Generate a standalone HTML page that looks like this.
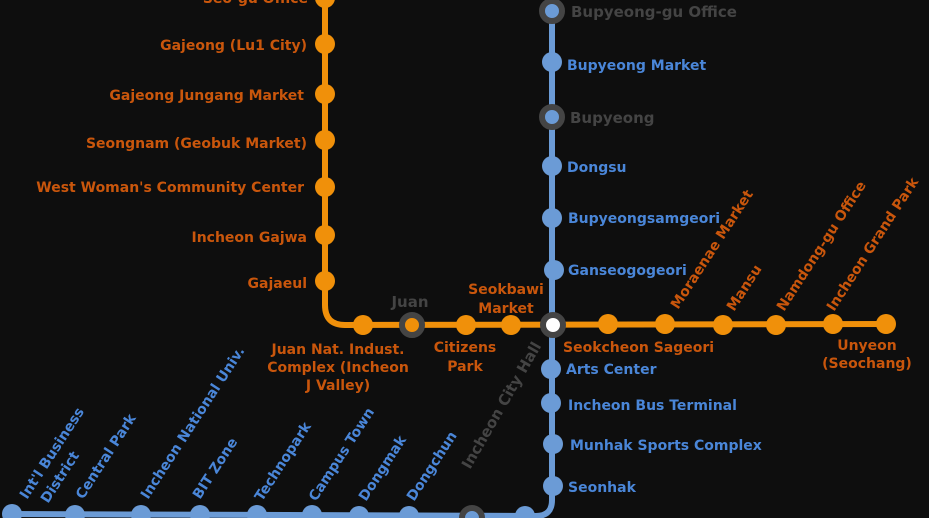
<!DOCTYPE html>
<html><head><meta charset="utf-8"><style>
html,body{margin:0;padding:0;background:#0e0e0e;}
svg{display:block;font-family:"DejaVu Sans","Liberation Sans",sans-serif;font-weight:bold;font-size:14px;}
.o{fill:#c9560c;}
.b{fill:#4a86d8;}
.g{fill:#444;}
</style></head><body>
<svg width="929" height="518" viewBox="0 0 929 518" xmlns="http://www.w3.org/2000/svg">
<rect width="929" height="518" fill="#0e0e0e"/>
<path d="M552,0 L552,500 Q552,516 536,516 L10,514" fill="none" stroke="#6b9bd6" stroke-width="6"/>
<path d="M325,0 L325,305 Q325,325 345,325 L886,324" fill="none" stroke="#f0900a" stroke-width="6"/>
<g fill="#f0900a">
<circle cx="325" cy="-2" r="10"/><circle cx="325" cy="44" r="10"/><circle cx="325" cy="94" r="10"/><circle cx="325" cy="140" r="10"/><circle cx="325" cy="187" r="10"/><circle cx="325" cy="235" r="10"/><circle cx="325" cy="281" r="10"/>
<circle cx="363" cy="325" r="10"/><circle cx="466" cy="325" r="10"/><circle cx="511" cy="325" r="10"/><circle cx="608" cy="324" r="10"/><circle cx="665" cy="324" r="10"/><circle cx="723" cy="325" r="10"/><circle cx="776" cy="325" r="10"/><circle cx="833" cy="324" r="10"/><circle cx="886" cy="324" r="10"/>
</g>
<g fill="#6b9bd6">
<circle cx="552" cy="62" r="10"/><circle cx="552" cy="166" r="10"/><circle cx="552" cy="218" r="10"/><circle cx="554" cy="270" r="10"/><circle cx="551" cy="369" r="10"/><circle cx="551" cy="403" r="10"/><circle cx="553" cy="444" r="10"/><circle cx="553" cy="486" r="10"/>
<circle cx="525" cy="516" r="10"/><circle cx="409" cy="516" r="10"/><circle cx="359" cy="516" r="10"/><circle cx="312" cy="515" r="10"/><circle cx="257" cy="515" r="10"/><circle cx="200" cy="515" r="10"/><circle cx="141" cy="515" r="10"/><circle cx="75" cy="515" r="10"/><circle cx="12" cy="514" r="10"/>
</g>
<g stroke="#444" stroke-width="6">
<circle cx="552" cy="11" r="10" fill="#6b9bd6"/>
<circle cx="552" cy="117" r="10" fill="#6b9bd6"/>
<circle cx="412" cy="325" r="10" fill="#f0900a"/>
<circle cx="553" cy="325" r="10" fill="#fff"/>
<circle cx="472" cy="518" r="10" fill="#6b9bd6"/>
</g>
<g class="o" text-anchor="end">
<text x="308" y="3">Seo-gu Office</text>
<text x="307" y="50">Gajeong (Lu1 City)</text>
<text x="304" y="100">Gajeong Jungang Market</text>
<text x="307" y="148">Seongnam (Geobuk Market)</text>
<text x="304" y="192">West Woman's Community Center</text>
<text x="307" y="242">Incheon Gajwa</text>
<text x="307" y="288">Gajaeul</text>
</g>
<g class="o" text-anchor="middle">
<text x="338" y="354">Juan Nat. Indust.</text>
<text x="338" y="372">Complex (Incheon</text>
<text x="338" y="390">J Valley)</text>
<text x="465" y="352">Citizens</text>
<text x="465" y="371">Park</text>
<text x="506" y="294">Seokbawi</text>
<text x="506" y="313">Market</text>
<text x="867" y="350">Unyeon</text>
<text x="867" y="368">(Seochang)</text>
</g>
<text class="o" x="563" y="352">Seokcheon Sageori</text>
<text class="g" x="410" y="307" text-anchor="middle" font-size="15">Juan</text>
<g class="o">
<text transform="translate(678,310) rotate(-57)">Moraenae Market</text>
<text transform="translate(734,312) rotate(-57)">Mansu</text>
<text transform="translate(784,312) rotate(-57)">Namdong-gu Office</text>
<text transform="translate(834,312) rotate(-57)">Incheon Grand Park</text>
</g>
<text class="g" x="571" y="17" font-size="15">Bupyeong-gu Office</text>
<text class="g" x="570" y="123" font-size="15">Bupyeong</text>
<g class="b">
<text x="567" y="70">Bupyeong Market</text>
<text x="567" y="172">Dongsu</text>
<text x="568" y="223">Bupyeongsamgeori</text>
<text x="568" y="275">Ganseogogeori</text>
<text x="566" y="374">Arts Center</text>
<text x="568" y="410">Incheon Bus Terminal</text>
<text x="570" y="450">Munhak Sports Complex</text>
<text x="568" y="492">Seonhak</text>
</g>
<g class="b">
<text transform="translate(27,500) rotate(-57)">Int'l Business</text>
<text transform="translate(48,504) rotate(-57)">District</text>
<text transform="translate(83,500) rotate(-57)">Central Park</text>
<text transform="translate(148,500) rotate(-57)">Incheon National Univ.</text>
<text transform="translate(200,500) rotate(-57)">BIT Zone</text>
<text transform="translate(262,502) rotate(-57)">Technopark</text>
<text transform="translate(316,502) rotate(-57)">Campus Town</text>
<text transform="translate(366,502) rotate(-57)">Dongmak</text>
<text transform="translate(414,502) rotate(-57)">Dongchun</text>
</g>
<text class="g" transform="translate(470,470) rotate(-60)" font-size="15">Incheon City Hall</text>
</svg>
</body></html>
